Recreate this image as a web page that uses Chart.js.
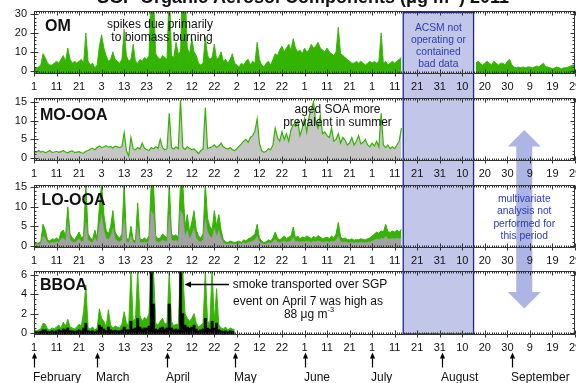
<!DOCTYPE html>
<html>
<head>
<meta charset="utf-8">
<script src="https://cdn.jsdelivr.net/npm/chart.js@4.4.1/dist/chart.umd.min.js"></script>
<style>
  html, body { margin:0; padding:0; background:#fff; }
  body { width:576px; height:383px; position:relative; overflow:hidden; }
  canvas { position:absolute; left:0; display:block; }
</style>
</head>
<body>
<canvas id="cOM" width="576" height="93" style="top:0px;width:576px;height:93px"></canvas>
<canvas id="cMO" width="576" height="87" style="top:93px;width:576px;height:87px"></canvas>
<canvas id="cLO" width="576" height="86" style="top:180px;width:576px;height:86px"></canvas>
<canvas id="cBB" width="576" height="117" style="top:266px;width:576px;height:117px"></canvas>
<script>
// ================= DATA (index = days since 1 Feb 2011) =================
const startDate = Date.UTC(2011, 1, 1);
const DAY_MS = 86400000;
const xTickDays = [0,10,20,30,40,50,60,70,80,90,100,110,120,130,140,150,160,170,180,190,200,210,220,230,240];
const monthNames = ['February','March','April','May','June','July','August','September'];
const acsmGap = [163.8, 195];           // ACSM not operating / bad data
const panelNames = ['OM','MO-OOA','LO-OOA','BBOA'];
const omTicks = [0,10,20,30];
const ooaTicks = [0,5,10,15];
const bboaTicks = [0,2,4,6];

const omValues = [
 2,1.5,2,3,9,7,4,3,3,4,
 5,4,6,8,5,12,6,4,5,4,
 5,6,4,20,5,3,4,1.5,3,13,
 19,12,8,5,6,10,6,5,4,6,
 22,8,5,6,14,5,4,6,5,7,
 6,8,45,40,9,7,6,8,7,6,
 45,8,7,15,9,10,50,45,12,9,
 17,10,8,4,3,4,18,8,6,7,
 14,6,7,10,5,6,4,6,9,4,
 3,2,4,3,5,6,3,5,4,15,
 6,3,2,4,5,3,6,9,8,11,
 13,10,12,14,11,17,12,10,11,9,
 12,10,11,14,12,13,15,12,11,10,
 12,10,9,8,10,23,9,8,7,6,
 5,4,4,5,4,5,4,3,4,5,
 4,5,4,5,20,4,5,3,4,5,
 4,5,6,7,
 null,null,null,null,null,null,null,null,null,null,null,null,null,null,null,null,
 null,null,null,null,null,null,null,null,null,null,null,null,null,null,null,null,
 4,5,4,3,4,5,4,3,5,4,
 3,4,4,3,5,6,3,2,1.5,2,
 1.5,2,1.5,2,2,1.5,2,2.5,2,3,
 4,2,2,1.5,1,1.5,2,1.5,1,1.5,
 1.5,2,2.5,3,3
];

const moOoaValues = [
 1.8,1.5,2.0,1.6,1.8,1.4,1.7,2.0,1.5,1.6,
 1.8,1.5,1.7,2.0,1.6,1.4,1.8,1.9,1.5,1.6,
 1.7,1.4,1.3,1.8,2.0,2.4,2.6,2.2,2.8,3.2,
 2.8,3.0,3.3,2.9,3.1,2.7,3.2,3.0,2.8,3.1,
 6.8,2.0,0.5,5.5,2.5,2.2,2.8,2.4,4.0,2.6,
 2.3,2.0,2.8,2.5,3.0,2.6,5.0,2.8,2.2,2.5,
 12.0,2.8,2.4,3.0,2.5,15.5,2.8,2.3,3.0,2.6,
 2.2,2.5,1.8,1.2,2.0,2.4,13.5,2.5,2.8,3.0,
 3.5,2.8,3.2,4.0,3.0,2.6,2.4,2.8,2.2,2.0,
 2.5,3.2,3.8,4.5,5.0,4.2,5.5,6.0,7.2,10.5,
 4.0,2.0,1.5,1.8,2.5,2.2,3.5,8.0,5.5,4.5,
 7.0,5.0,6.5,4.5,7.5,9.0,8.5,10.0,6.0,8.0,
 10.5,7.0,11.0,13.0,15.0,9.5,8.0,11.5,6.5,7.0,
 6.0,5.5,8.0,4.5,5.0,6.5,4.0,5.5,4.8,3.5,
 4.0,5.5,3.5,4.5,6.0,3.8,4.2,5.0,3.5,3.0,
 4.0,3.2,4.5,3.0,12.0,3.5,2.8,3.5,2.5,3.0,
 2.5,3.5,4.5,8.0
];

const loOoaValues = [
 0.8,0.6,0.7,1.0,5.5,4.0,1.5,1.2,1.8,1.5,
 2.0,1.5,3.5,4.0,2.5,10.0,3.0,2.0,1.5,2.5,
 3.5,2.0,2.5,16,3.0,2.0,1.5,4.0,2.0,10.0,
 16,8.0,4.0,3.0,5.0,9.0,3.5,2.5,2.0,3.0,
 16,2.0,1.5,5.0,1.5,1.2,11.0,1.8,1.5,2.0,
 1.5,2.5,16,16,2.5,1.8,2.0,3.0,2.5,2.0,
 16,3.0,2.5,2.8,2.2,16,16,5.0,8.0,3.5,
 6.0,9.0,4.0,2.5,2.0,3.0,16,7.0,5.0,4.0,
 9.0,5.0,8.0,4.0,1.5,1.0,0.8,1.2,1.0,0.8,
 1.0,1.2,0.8,1.5,1.2,1.8,2.0,2.5,3.0,5.5,
 2.0,1.2,0.8,1.0,1.5,1.2,2.0,3.5,2.0,1.5,
 2.0,2.5,1.8,2.2,2.5,4.8,2.0,2.5,1.8,2.2,
 2.0,2.5,2.2,1.8,2.4,2.0,2.6,2.2,1.8,2.0,
 2.2,1.8,2.5,2.0,3.0,6.0,2.2,1.8,2.0,1.6,
 1.5,1.8,1.4,1.6,1.5,1.8,1.6,1.5,1.8,2.0,
 2.5,3.0,3.5,3.2,3.8,3.5,5.5,3.6,3.4,3.8,
 3.5,4.0,3.6,4.2
];

// grey (lower) part of the LO-OOA trace
const loOoaGrey = [
 0.4,0.3,0.3,0.5,2.5,2.0,0.8,0.6,0.9,0.8,
 1.0,0.8,1.8,2.0,1.2,6.0,1.5,1.0,0.8,1.2,
 1.8,1.0,1.2,6.0,1.5,1.0,0.8,2.0,1.0,5.0,
 8.0,4.0,2.0,1.5,2.5,4.5,1.8,1.2,1.0,1.5,
 7.0,1.0,0.8,2.5,0.8,0.6,5.0,0.9,0.8,1.0,
 0.8,1.2,9.0,8.0,1.2,0.9,1.0,1.5,1.2,1.0,
 8.0,1.5,1.2,1.4,1.1,9.0,8.0,2.5,4.0,1.8,
 3.0,4.5,2.0,1.2,1.0,1.5,7.0,3.5,2.5,2.0,
 4.5,2.5,4.0,2.0,0.8,0.5,0.4,0.6,0.5,0.4,
 0.5,0.6,0.4,0.8,0.6,0.9,1.0,1.2,1.5,2.5,
 1.0,0.6,0.4,0.5,0.8,0.6,1.0,1.8,1.0,0.8,
 1.0,1.2,0.9,1.1,1.2,2.2,1.0,1.2,0.9,1.1,
 1.0,1.2,1.1,0.9,1.2,1.0,1.3,1.1,0.9,1.0,
 1.1,0.9,1.2,1.0,1.5,2.5,1.1,0.9,1.0,0.8,
 0.8,0.9,0.7,0.8,0.8,0.9,0.8,0.8,0.9,1.0,
 1.2,1.5,1.8,1.6,1.9,1.8,2.5,1.8,1.7,1.9,
 1.8,2.0,1.8,2.1
];

const bboaGreen = [
 0.3,0.2,0.3,0.4,1.0,0.9,0.4,0.3,0.5,0.4,
 0.6,0.8,0.5,1.1,0.7,1.4,0.6,0.5,0.4,0.6,
 0.9,0.7,2.2,5.0,0.5,0.4,0.6,0.3,0.5,2.5,
 1.5,1.2,0.6,2.4,0.8,0.5,0.7,0.6,0.5,0.9,
 2.2,1.0,0.8,6.5,1.2,1.5,6.5,1.8,1.2,1.6,
 1.4,2.0,6.5,6.5,1.0,0.8,1.2,1.5,0.9,1.0,
 6.5,1.2,0.7,0.9,0.8,6.5,6.5,2.0,1.5,1.2,
 1.5,2.0,1.0,0.6,0.8,1.0,6.5,1.2,1.0,6.5,
 1.2,4.6,0.8,0.5,0.4,0.6,0.3,0.5,0.4,0.3
];

const bboaBlack = [
 0.1,0.1,0.1,0.15,0.3,0.3,0.15,0.1,0.2,0.15,
 0.2,0.3,0.2,0.4,0.3,0.5,0.2,0.2,0.15,0.2,
 0.3,0.2,0.5,1.0,0.2,0.15,0.2,0.1,0.2,0.8,
 0.6,0.4,0.2,0.6,0.3,0.2,0.25,0.2,0.2,0.3,
 0.6,0.3,0.3,1.2,0.4,0.5,1.5,0.6,0.4,0.5,
 0.5,0.7,6.5,3.0,0.4,0.3,0.5,0.6,0.4,0.5,
 3.0,0.5,0.3,0.4,0.3,6.5,2.0,0.8,0.6,0.5,
 0.6,0.8,0.4,0.2,0.3,0.4,1.5,0.5,0.4,1.2,
 0.5,1.0,0.3,0.2,0.15,0.2,0.1,0.2,0.15,0.1
];

// ================= STYLE =================
const FONT = "'Liberation Sans', Arial, Helvetica, sans-serif";
const GREEN = '#34b400';
const BLUE_TXT = '#2b3db3';
const BOX_FILL = '#c2c6e8';
const BOX_LINE = '#1c2a8c';
const ARROW_FILL = '#acb5e3';
const X_MIN = 0, X_MAX = 240;

const pts = arr => arr.map((v, i) => ({x: i, y: v}));
const dayToLabel = d => new Date(startDate + d * DAY_MS).getUTCDate();

function text(ctx, s, x, y, size, opts = {}) {
  ctx.font = (opts.bold ? 'bold ' : '') + size + 'px ' + FONT;
  ctx.fillStyle = opts.color || '#111';
  ctx.textAlign = opts.align || 'center';
  ctx.textBaseline = 'alphabetic';
  ctx.fillText(s, x, y);
}
function supText(ctx, parts, cx, y, size, opts = {}) {
  const b = opts.bold ? 'bold ' : '';
  let total = 0;
  parts.forEach(([s, sup]) => { ctx.font = b + (sup ? size * 0.62 : size) + 'px ' + FONT; total += ctx.measureText(s).width; });
  let x = cx - total / 2;
  ctx.fillStyle = opts.color || '#111'; ctx.textAlign = 'left'; ctx.textBaseline = 'alphabetic';
  parts.forEach(([s, sup]) => {
    ctx.font = b + (sup ? size * 0.62 : size) + 'px ' + FONT;
    ctx.fillText(s, x, sup ? y - size * 0.42 : y);
    x += ctx.measureText(s).width;
  });
}

// page-coordinate geometry of cross-panel overlays
const BOX_TOP = 12.5, BOX_BOTTOM = 334;
const ARR = { tip1: 130, head1: 146.5, head2: 292, tip2: 308.5, headHalf: 16.5, shaftHalf: 8 };

function drawOverlays(chart, top) {
  const {ctx, scales: {x}} = chart;
  ctx.save();
  ctx.translate(0, -top);
  const x0 = x.getPixelForValue(acsmGap[0]), x1 = x.getPixelForValue(acsmGap[1]);
  ctx.fillStyle = BOX_FILL;
  ctx.fillRect(x0, BOX_TOP, x1 - x0, BOX_BOTTOM - BOX_TOP);
  ctx.strokeStyle = BOX_LINE; ctx.lineWidth = 1.3;
  ctx.strokeRect(x0, BOX_TOP, x1 - x0, BOX_BOTTOM - BOX_TOP);
  const cx = x.getPixelForValue((acsmGap[1] + X_MAX) / 2);
  ctx.fillStyle = ARROW_FILL;
  ctx.beginPath();
  ctx.moveTo(cx, ARR.tip1);
  ctx.lineTo(cx + ARR.headHalf, ARR.head1);
  ctx.lineTo(cx + ARR.shaftHalf, ARR.head1);
  ctx.lineTo(cx + ARR.shaftHalf, ARR.head2);
  ctx.lineTo(cx + ARR.headHalf, ARR.head2);
  ctx.lineTo(cx, ARR.tip2);
  ctx.lineTo(cx - ARR.headHalf, ARR.head2);
  ctx.lineTo(cx - ARR.shaftHalf, ARR.head2);
  ctx.lineTo(cx - ARR.shaftHalf, ARR.head1);
  ctx.lineTo(cx - ARR.headHalf, ARR.head1);
  ctx.closePath();
  ctx.fill();
  ctx.restore();
}

function drawFrame(chart, yMinor, yMajor) {
  const {ctx, chartArea: a, scales: {x, y}} = chart;
  ctx.save();
  ctx.strokeStyle = '#333'; ctx.lineWidth = 1;
  const L = Math.round(a.left) + 0.5, R = Math.round(a.right) - 0.5;
  const T = Math.round(a.top) + 0.5, B = Math.round(a.bottom) - 0.5;
  ctx.strokeRect(L, T, R - L, B - T);
  ctx.beginPath();
  for (let d = X_MIN; d <= X_MAX; d++) {
    const px = Math.round(x.getPixelForValue(d)) + 0.5;
    const major = d % 10 === 0;
    const inL = major ? 4 : 2;
    ctx.moveTo(px, B); ctx.lineTo(px, B - inL);
    ctx.moveTo(px, T); ctx.lineTo(px, T + inL);
    if (major) { ctx.moveTo(px, B); ctx.lineTo(px, B + 3); }
  }
  const n0 = Math.ceil(y.min / yMinor - 1e-9), n1 = Math.floor(y.max / yMinor + 1e-9);
  for (let n = n0; n <= n1; n++) {
    const v = n * yMinor;
    const py = Math.round(y.getPixelForValue(v)) + 0.5;
    const major = Math.abs(v / yMajor - Math.round(v / yMajor)) < 1e-6;
    const inL = major ? 4 : 2;
    ctx.moveTo(L, py); ctx.lineTo(L + inL, py);
    ctx.moveTo(R, py); ctx.lineTo(R - inL, py);
    if (major) { ctx.moveTo(L, py); ctx.lineTo(L - 4, py); }
  }
  ctx.stroke();
  ctx.restore();
}

function makeChart(id, cfg) {
  const canvas = document.getElementById(id);
  return new Chart(canvas, {
    type: 'line',
    data: { datasets: cfg.datasets },
    options: {
      responsive: false, animation: false, events: [],
      layout: { padding: { top: cfg.padTop, left: 0, right: 1, bottom: 0 } },
      plugins: { legend: {display: false}, tooltip: {enabled: false}, title: {display: false} },
      elements: { point: { radius: 0 }, line: { tension: 0 } },
      scales: {
        x: {
          type: 'linear', min: X_MIN, max: X_MAX,
          grid: { display: false, drawTicks: false }, border: { display: false },
          ticks: { autoSkip: false, maxRotation: 0, minRotation: 0, padding: 6, color: '#111',
                   font: { family: FONT, size: 11 }, callback: v => dayToLabel(v) },
          afterBuildTicks: s => { s.ticks = xTickDays.map(v => ({value: v})); },
          afterFit: s => { s.height = cfg.xAxisH; s.paddingLeft = 0; s.paddingRight = 0; }
        },
        y: {
          type: 'linear', min: cfg.yMin, max: cfg.yMax, bounds: 'data',
          grid: { display: false, drawTicks: false }, border: { display: false },
          ticks: { padding: 7, color: '#111', font: { family: FONT, size: 11 } },
          afterBuildTicks: s => { s.ticks = cfg.yTicks.map(v => ({value: v})); },
          afterFit: s => { s.width = 34; s.paddingTop = 0; s.paddingBottom = 0; }
        }
      }
    },
    plugins: [{
      id: 'deco_' + id,
      beforeDraw(chart) { drawOverlays(chart, cfg.top); },
      afterDatasetsDraw(chart) {
        const ctx = chart.ctx;
        ctx.save(); ctx.translate(0, -cfg.top);
        cfg.annotate(ctx, chart);
        ctx.restore();
      },
      afterDraw(chart) {
        drawFrame(chart, cfg.yMinor, cfg.yTicks[1] - cfg.yTicks[0]);
        if (cfg.after) { const ctx = chart.ctx; ctx.save(); ctx.translate(0, -cfg.top); cfg.after(ctx, chart); ctx.restore(); }
      }
    }]
  });
}

// ---------- OM ----------
makeChart('cOM', {
  top: 0, padTop: 11, xAxisH: 19, yMin: -1.75, yMax: 31.6, yTicks: omTicks, yMinor: 2,
  datasets: [{ data: pts(omValues), borderColor: GREEN, backgroundColor: GREEN, borderWidth: 0.9,
               fill: 'start', spanGaps: false }],
  annotate(ctx, chart) {
    supText(ctx, [['SGP Organic Aerosol Components (\u03bcg m', false], ['-3', true], [') 2011', false]], 303, 3.2, 18, {bold: true});
    text(ctx, panelNames[0], 45, 31, 16, {bold: true, align: 'left'});
    text(ctx, 'spikes due primarily', 160, 28, 12);
    text(ctx, 'to biomass burning', 162, 40.5, 12);
    const x = chart.scales.x;
    const bx = (x.getPixelForValue(acsmGap[0]) + x.getPixelForValue(acsmGap[1])) / 2;
    ['ACSM not', 'operating or', 'contained', 'bad data'].forEach((s, i) =>
      text(ctx, s, bx, 30.5 + i * 12.3, 10.3, {color: BLUE_TXT}));
  }
});

// ---------- MO-OOA ----------
makeChart('cMO', {
  top: 93, padTop: 5, xAxisH: 19, yMin: -0.8, yMax: 16.07, yTicks: ooaTicks, yMinor: 1,
  datasets: [{ data: pts(moOoaValues), borderColor: GREEN, backgroundColor: '#c6c6c6', borderWidth: 1.2, fill: 'start' }],
  annotate(ctx) {
    text(ctx, panelNames[1], 40, 119.5, 16, {bold: true, align: 'left'});
    text(ctx, 'aged SOA more', 337.5, 113, 12);
    text(ctx, 'prevalent in summer', 337.5, 125.5, 12);
  }
});

// ---------- LO-OOA ----------
makeChart('cLO', {
  top: 180, padTop: 5, xAxisH: 18, yMin: -0.6, yMax: 15.6, yTicks: ooaTicks, yMinor: 1,
  datasets: [
    { data: pts(loOoaGrey), borderColor: '#9a9a9a', backgroundColor: '#a2a2a2', borderWidth: 0.5, fill: 'start', order: 0 },
    { data: pts(loOoaValues), borderColor: GREEN, backgroundColor: GREEN, borderWidth: 1.0, fill: 'start', order: 1 }
  ],
  annotate(ctx, chart) {
    text(ctx, panelNames[2], 41.5, 204.5, 16, {bold: true, align: 'left'});
    const cx = chart.scales.x.getPixelForValue((acsmGap[1] + X_MAX) / 2);
    ['multivariate', 'analysis not', 'performed for', 'this period'].forEach((s, i) =>
      text(ctx, s, cx, 202 + i * 12.4, 10.3, {color: BLUE_TXT}));
  }
});

// ---------- BBOA ----------
makeChart('cBB', {
  top: 266, padTop: 5, xAxisH: 48, yMin: -0.24, yMax: 6.45, yTicks: bboaTicks, yMinor: 0.5,
  datasets: [
    { data: pts(bboaBlack), borderColor: '#000', backgroundColor: '#000', borderWidth: 0.6, fill: 'start', stepped: 'middle', order: 0 },
    { data: pts(bboaGreen), borderColor: GREEN, backgroundColor: GREEN, borderWidth: 0.9, fill: 'start', order: 1 }
  ],
  annotate(ctx) {
    text(ctx, panelNames[3], 40, 289.5, 16, {bold: true, align: 'left'});
    text(ctx, 'smoke transported over SGP', 310, 288, 12);
    text(ctx, 'event on April 7 was high as', 308, 305, 12);
    supText(ctx, [['88 \u03bcg m', false], ['-3', true]], 309, 317.5, 12);
    ctx.strokeStyle = '#000'; ctx.fillStyle = '#000'; ctx.lineWidth = 1.5;
    ctx.beginPath(); ctx.moveTo(229, 284.5); ctx.lineTo(189, 284.5); ctx.stroke();
    ctx.beginPath(); ctx.moveTo(184.5, 284.5); ctx.lineTo(191, 281.5); ctx.lineTo(191, 287.5); ctx.closePath(); ctx.fill();
  },
  after(ctx, chart) {
    const x = chart.scales.x;
    monthNames.forEach((name, i) => {
      const d = (Date.UTC(2011, 1 + i, 1) - startDate) / DAY_MS;
      const px = Math.round(x.getPixelForValue(d)) + 0.5;
      ctx.strokeStyle = '#000'; ctx.fillStyle = '#000'; ctx.lineWidth = 1.2;
      ctx.beginPath(); ctx.moveTo(px, 357); ctx.lineTo(px, 367.5); ctx.stroke();
      ctx.beginPath(); ctx.moveTo(px, 352.5); ctx.lineTo(px + 2.6, 358.5); ctx.lineTo(px - 2.6, 358.5); ctx.closePath(); ctx.fill();
      text(ctx, name, px - 1.5, 380.5, 12, {align: 'left'});
    });
  }
});
</script>
</body>
</html>
